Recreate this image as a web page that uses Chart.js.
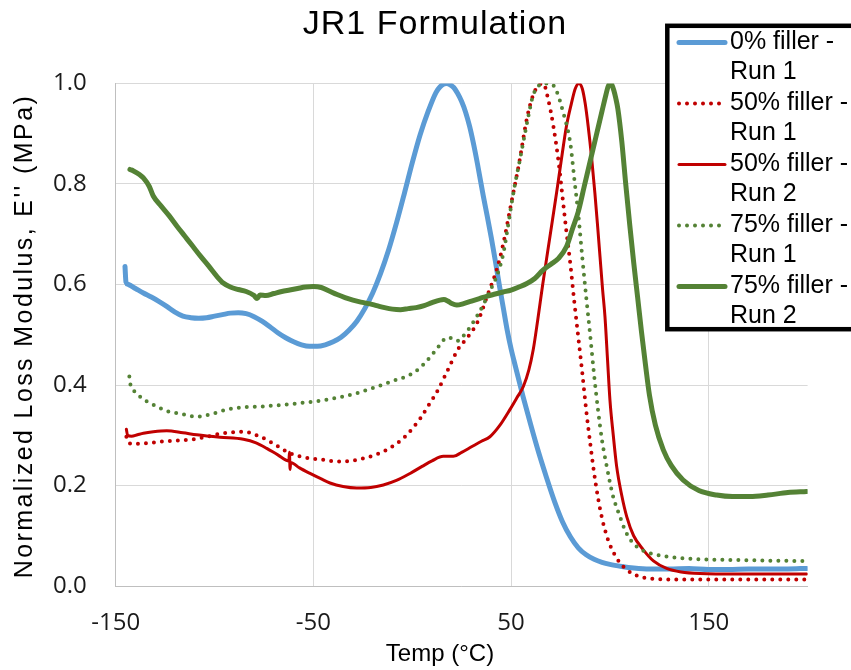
<!DOCTYPE html>
<html><head><meta charset="utf-8">
<script src="https://cdn.jsdelivr.net/npm/chart.js@4/dist/chart.umd.min.js"></script>
<style>html,body{margin:0;padding:0;background:#fff}#wrap{width:851px;height:670px;position:relative}</style>
</head><body><div id="wrap"><canvas id="c" width="851" height="670"></canvas></div>
<script>
const chartTitle = 'JR1 Formulation';
const xAxisTitle = 'Temp (°C)';
const yAxisTitle = "Normalized Loss Modulus, E'' (MPa)";
const seriesNames = ['0% filler - Run 1', '50% filler - Run 1', '50% filler - Run 2', '75% filler - Run 1', '75% filler - Run 2'];
const xTickValues = [-150, -50, 50, 150];
const yTickValues = [0, 0.2, 0.4, 0.6, 0.8, 1.0];

// 0% filler - Run 1
const temp0 = [-145.3,-144.8,-143.6,-140,-136,-132,-128,-124,-120,-116,-112,-108,-104,-100,-96,-92,-88,-84,-80,-76,-72,-68,-64,-60,-56,-52,-48,-44,-40,-36,-32,-28,-24,-20,-16,-12,-8,-4,0,4,8,12,14,16,17.5,19,21,23,25,27,29,31,33,36,38,40,42,44,46,48,50,52,56,60,64,68,72,76,80,84,88,92,96,100,106,112,120,130,140,150,160,170,180,190,199.5];
const loss0 = [0.636,0.605,0.600,0.592,0.583,0.575,0.566,0.556,0.545,0.537,0.534,0.533,0.534,0.537,0.540,0.543,0.544,0.542,0.536,0.527,0.516,0.504,0.494,0.486,0.480,0.477,0.477,0.480,0.486,0.495,0.509,0.527,0.552,0.583,0.622,0.668,0.722,0.781,0.842,0.898,0.944,0.982,0.993,0.999,1.0,0.998,0.992,0.980,0.964,0.943,0.915,0.880,0.840,0.775,0.735,0.693,0.648,0.600,0.555,0.510,0.472,0.440,0.378,0.320,0.265,0.215,0.168,0.128,0.098,0.076,0.062,0.053,0.047,0.043,0.039,0.036,0.034,0.034,0.035,0.033,0.033,0.034,0.034,0.034,0.035];

// 50% filler - Run 1
const temp50a = [-144.6,-143.5,-141,-136,-132,-127.6,-120,-110.7,-104,-97.2,-91,-85.4,-80,-73.6,-68,-61.8,-56,-51.7,-45,-38.2,-31,-24.8,-18,-12.9,-8,-4,0,4,8,13,18,23,28,33,38,42.7,46,50,54,58,61,64,66.3,68.8,71.4,74,76,78,80,82,84,86,88,90,92,94,96,98,100,104,108,114,120,135,150,170,199.5];
const loss50a = [0.297,0.285,0.283,0.284,0.285,0.287,0.289,0.292,0.297,0.303,0.306,0.307,0.302,0.291,0.278,0.264,0.257,0.254,0.251,0.248,0.249,0.254,0.262,0.271,0.283,0.296,0.313,0.333,0.358,0.390,0.430,0.470,0.495,0.525,0.578,0.629,0.680,0.760,0.840,0.930,0.975,0.997,1.0,0.968,0.915,0.845,0.775,0.705,0.640,0.565,0.495,0.425,0.350,0.285,0.225,0.175,0.135,0.105,0.082,0.052,0.034,0.020,0.015,0.013,0.013,0.013,0.013];

// 50% filler - Run 2
const temp50b = [-144.6,-144,-142,-139,-136,-131,-124.2,-116,-109,-97.2,-85.4,-79,-73.6,-68,-62.4,-62.1,-61.8,-61.5,-57,-51.7,-46,-41.6,-35,-28.1,-21,-14.6,-8,-1.1,5,10,15.7,20.8,25,30,35,39.3,44,49.4,53,56.2,59,61.2,63.5,66,68.5,71,73,75.5,78,80.5,82.5,84.3,86,87.5,89,90.8,92.4,93.8,95,96.3,97.5,98.8,100,101.7,103.4,106,108.5,112,116.9,122,128.7,136,145.5,165,185,199.5];
const loss50b = [0.312,0.300,0.298,0.301,0.304,0.307,0.309,0.305,0.301,0.296,0.292,0.285,0.274,0.261,0.249,0.266,0.232,0.246,0.235,0.224,0.213,0.205,0.198,0.195,0.196,0.201,0.210,0.224,0.238,0.249,0.258,0.258,0.266,0.277,0.288,0.297,0.318,0.351,0.375,0.397,0.430,0.470,0.530,0.600,0.665,0.730,0.782,0.850,0.915,0.960,0.990,1.0,0.990,0.960,0.915,0.850,0.782,0.715,0.655,0.590,0.536,0.450,0.371,0.300,0.238,0.180,0.138,0.100,0.072,0.050,0.035,0.028,0.025,0.024,0.024,0.024];

// 75% filler - Run 1
const temp75a = [-143.1,-142.5,-141.1,-138,-135,-132.6,-128,-124,-119,-114,-109,-104,-99,-94,-89,-84,-77,-70,-63.5,-57,-50,-43,-35,-27,-20,-14,-9,-3,2,6,10,14,17,19,21,23,25,28,32.6,36,39,42.7,46,48,50,52,54.5,57,59,61,63,66,70.5,73,76.4,80,82,84,86,88,90,92,94,96,98.4,101.5,105.1,108,111.8,116,123.6,132,145.5,160,175,190,198];
const loss75a = [0.417,0.400,0.390,0.378,0.369,0.364,0.355,0.348,0.344,0.340,0.337,0.340,0.345,0.351,0.354,0.356,0.357,0.359,0.361,0.364,0.367,0.371,0.377,0.385,0.394,0.402,0.409,0.417,0.428,0.442,0.460,0.480,0.493,0.494,0.489,0.488,0.494,0.508,0.536,0.560,0.585,0.616,0.660,0.705,0.755,0.800,0.849,0.900,0.940,0.975,0.991,1.0,0.999,0.985,0.942,0.880,0.810,0.740,0.655,0.575,0.500,0.420,0.350,0.290,0.238,0.180,0.138,0.108,0.085,0.072,0.062,0.057,0.053,0.052,0.051,0.050,0.050];

// 75% filler - Run 2
const temp75b = [-142.8,-141,-138,-136,-133,-131,-127,-123,-119,-115,-111,-107,-103,-99,-95.6,-92,-88,-84,-80,-78.5,-77,-74,-70,-66,-62,-58,-54,-50,-46,-42,-38,-34,-30,-26,-22,-18,-14,-10,-6,-2,2,6,10,14,16,18,20,22.5,26,30,34,38,42,46,50,54,58,62,66,70,74,78,81,84,87,90,93,96,98,99,100,101,102,103,104,106,108,110,112,114,116,118,120,123,127,131,137,145,154,162,170.8,180,190,199.5];
const loss75b = [0.829,0.826,0.819,0.812,0.795,0.776,0.756,0.737,0.716,0.696,0.676,0.656,0.637,0.617,0.603,0.595,0.590,0.586,0.578,0.572,0.579,0.578,0.582,0.586,0.589,0.592,0.595,0.596,0.594,0.587,0.580,0.574,0.569,0.565,0.562,0.558,0.554,0.551,0.550,0.552,0.554,0.558,0.564,0.569,0.570,0.567,0.562,0.559,0.562,0.567,0.572,0.577,0.581,0.585,0.589,0.595,0.602,0.612,0.628,0.640,0.652,0.675,0.710,0.745,0.795,0.845,0.895,0.945,0.978,0.993,1.0,0.997,0.986,0.970,0.950,0.885,0.80,0.72,0.645,0.575,0.505,0.44,0.38,0.32,0.271,0.24,0.211,0.19,0.181,0.178,0.178,0.181,0.186,0.188];

const BLUE = '#5B9BD5', RED = '#C00000', GREEN = '#548235';
const pts = (xs, ys) => xs.map((x, i) => ({x: x, y: ys[i]}));
const TXT = '"Liberation Sans", Arial, sans-serif';
const TICKF = '"Open Sans", "Liberation Sans", sans-serif';

function mk(idx, xs, ys, color, width, dotted) {
  return {
    label: seriesNames[idx], data: pts(xs, ys), borderColor: color, backgroundColor: color,
    borderWidth: width, borderDash: dotted ? [0, 8] : [], borderCapStyle: 'round', borderJoinStyle: 'round',
    pointRadius: 0, fill: false, cubicInterpolationMode: 'monotone', order: -idx
  };
}

const overlay = {
  id: 'overlay',
  afterDraw(chart) {
    const ctx = chart.ctx;
    ctx.save();
    ctx.fillStyle = '#000';
    ctx.textAlign = 'center'; ctx.textBaseline = 'middle';
    ctx.font = '34px ' + TXT;
    ctx.letterSpacing = '1px';
    ctx.fillText(chartTitle, 435, 25);
    ctx.letterSpacing = '0px';
    ctx.font = '24px ' + TXT;
    ctx.fillText(xAxisTitle, 440, 654);
    ctx.save();
    ctx.translate(25, 336); ctx.rotate(-Math.PI / 2);
    ctx.font = '25px ' + TXT;
    ctx.letterSpacing = '2.4px';
    ctx.fillText(yAxisTitle, 0, 0);
    ctx.letterSpacing = '0px';
    ctx.restore();
    // legend
    ctx.fillStyle = '#fff';
    ctx.fillRect(667, 26, 200, 303);
    ctx.lineWidth = 4.5; ctx.strokeStyle = '#000';
    ctx.strokeRect(667.3, 25.8, 200, 303.4);
    chart.data.datasets.forEach((ds, i) => {
      const cy = 42.5 + i * 61;
      ctx.beginPath();
      ctx.setLineDash(ds.borderDash);
      ctx.lineCap = 'round';
      ctx.lineWidth = ds.borderWidth;
      ctx.strokeStyle = ds.borderColor;
      ctx.moveTo(679, cy); ctx.lineTo(725, cy);
      ctx.stroke();
      ctx.setLineDash([]);
      const parts = ds.label.split(' - ');
      ctx.fillStyle = '#000';
      ctx.textAlign = 'left';
      ctx.font = '25px ' + TXT;
      ctx.fillText(parts[0] + ' -', 730, cy);
      ctx.fillText(parts[1], 730, cy + 30);
    });
    ctx.restore();
  }
};

new Chart(document.getElementById('c'), {
  type: 'line',
  data: {
    datasets: [
      mk(0, temp0, loss0, BLUE, 5, false),
      mk(1, temp50a, loss50a, RED, 4, true),
      mk(2, temp50b, loss50b, RED, 3, false),
      mk(3, temp75a, loss75a, GREEN, 4, true),
      mk(4, temp75b, loss75b, GREEN, 5, false)
    ]
  },
  options: {
    responsive: false, animation: false, devicePixelRatio: 1,
    layout: {padding: {top: 83.5, right: 43.4, left: 0, bottom: 0}},
    plugins: {legend: {display: false}, title: {display: false}, tooltip: {enabled: false}},
    scales: {
      x: {
        type: 'linear', min: -150, max: 200,
        afterBuildTicks: s => { s.ticks = xTickValues.map(v => ({value: v})); },
        afterFit: s => { s.height = 84; },
        grid: {color: '#d9d9d9', lineWidth: 1, drawTicks: false},
        border: {display: true, color: '#bfbfbf', width: 1},
        ticks: {padding: 23, color: '#1a1a1a', font: {family: TICKF, size: 24}, callback: v => String(v), maxRotation: 0, autoSkip: false}
      },
      y: {
        type: 'linear', min: 0, max: 1,
        afterBuildTicks: s => { s.ticks = yTickValues.map(v => ({value: v})); },
        afterFit: s => { s.width = 115.7; },
        grid: {color: '#d9d9d9', lineWidth: 1, drawTicks: false},
        border: {display: true, color: '#bfbfbf', width: 1},
        ticks: {padding: 29, color: '#1a1a1a', font: {family: TICKF, size: 24}, callback: v => v.toFixed(1)}
      }
    }
  },
  plugins: [overlay]
});
</script>
</body></html>
